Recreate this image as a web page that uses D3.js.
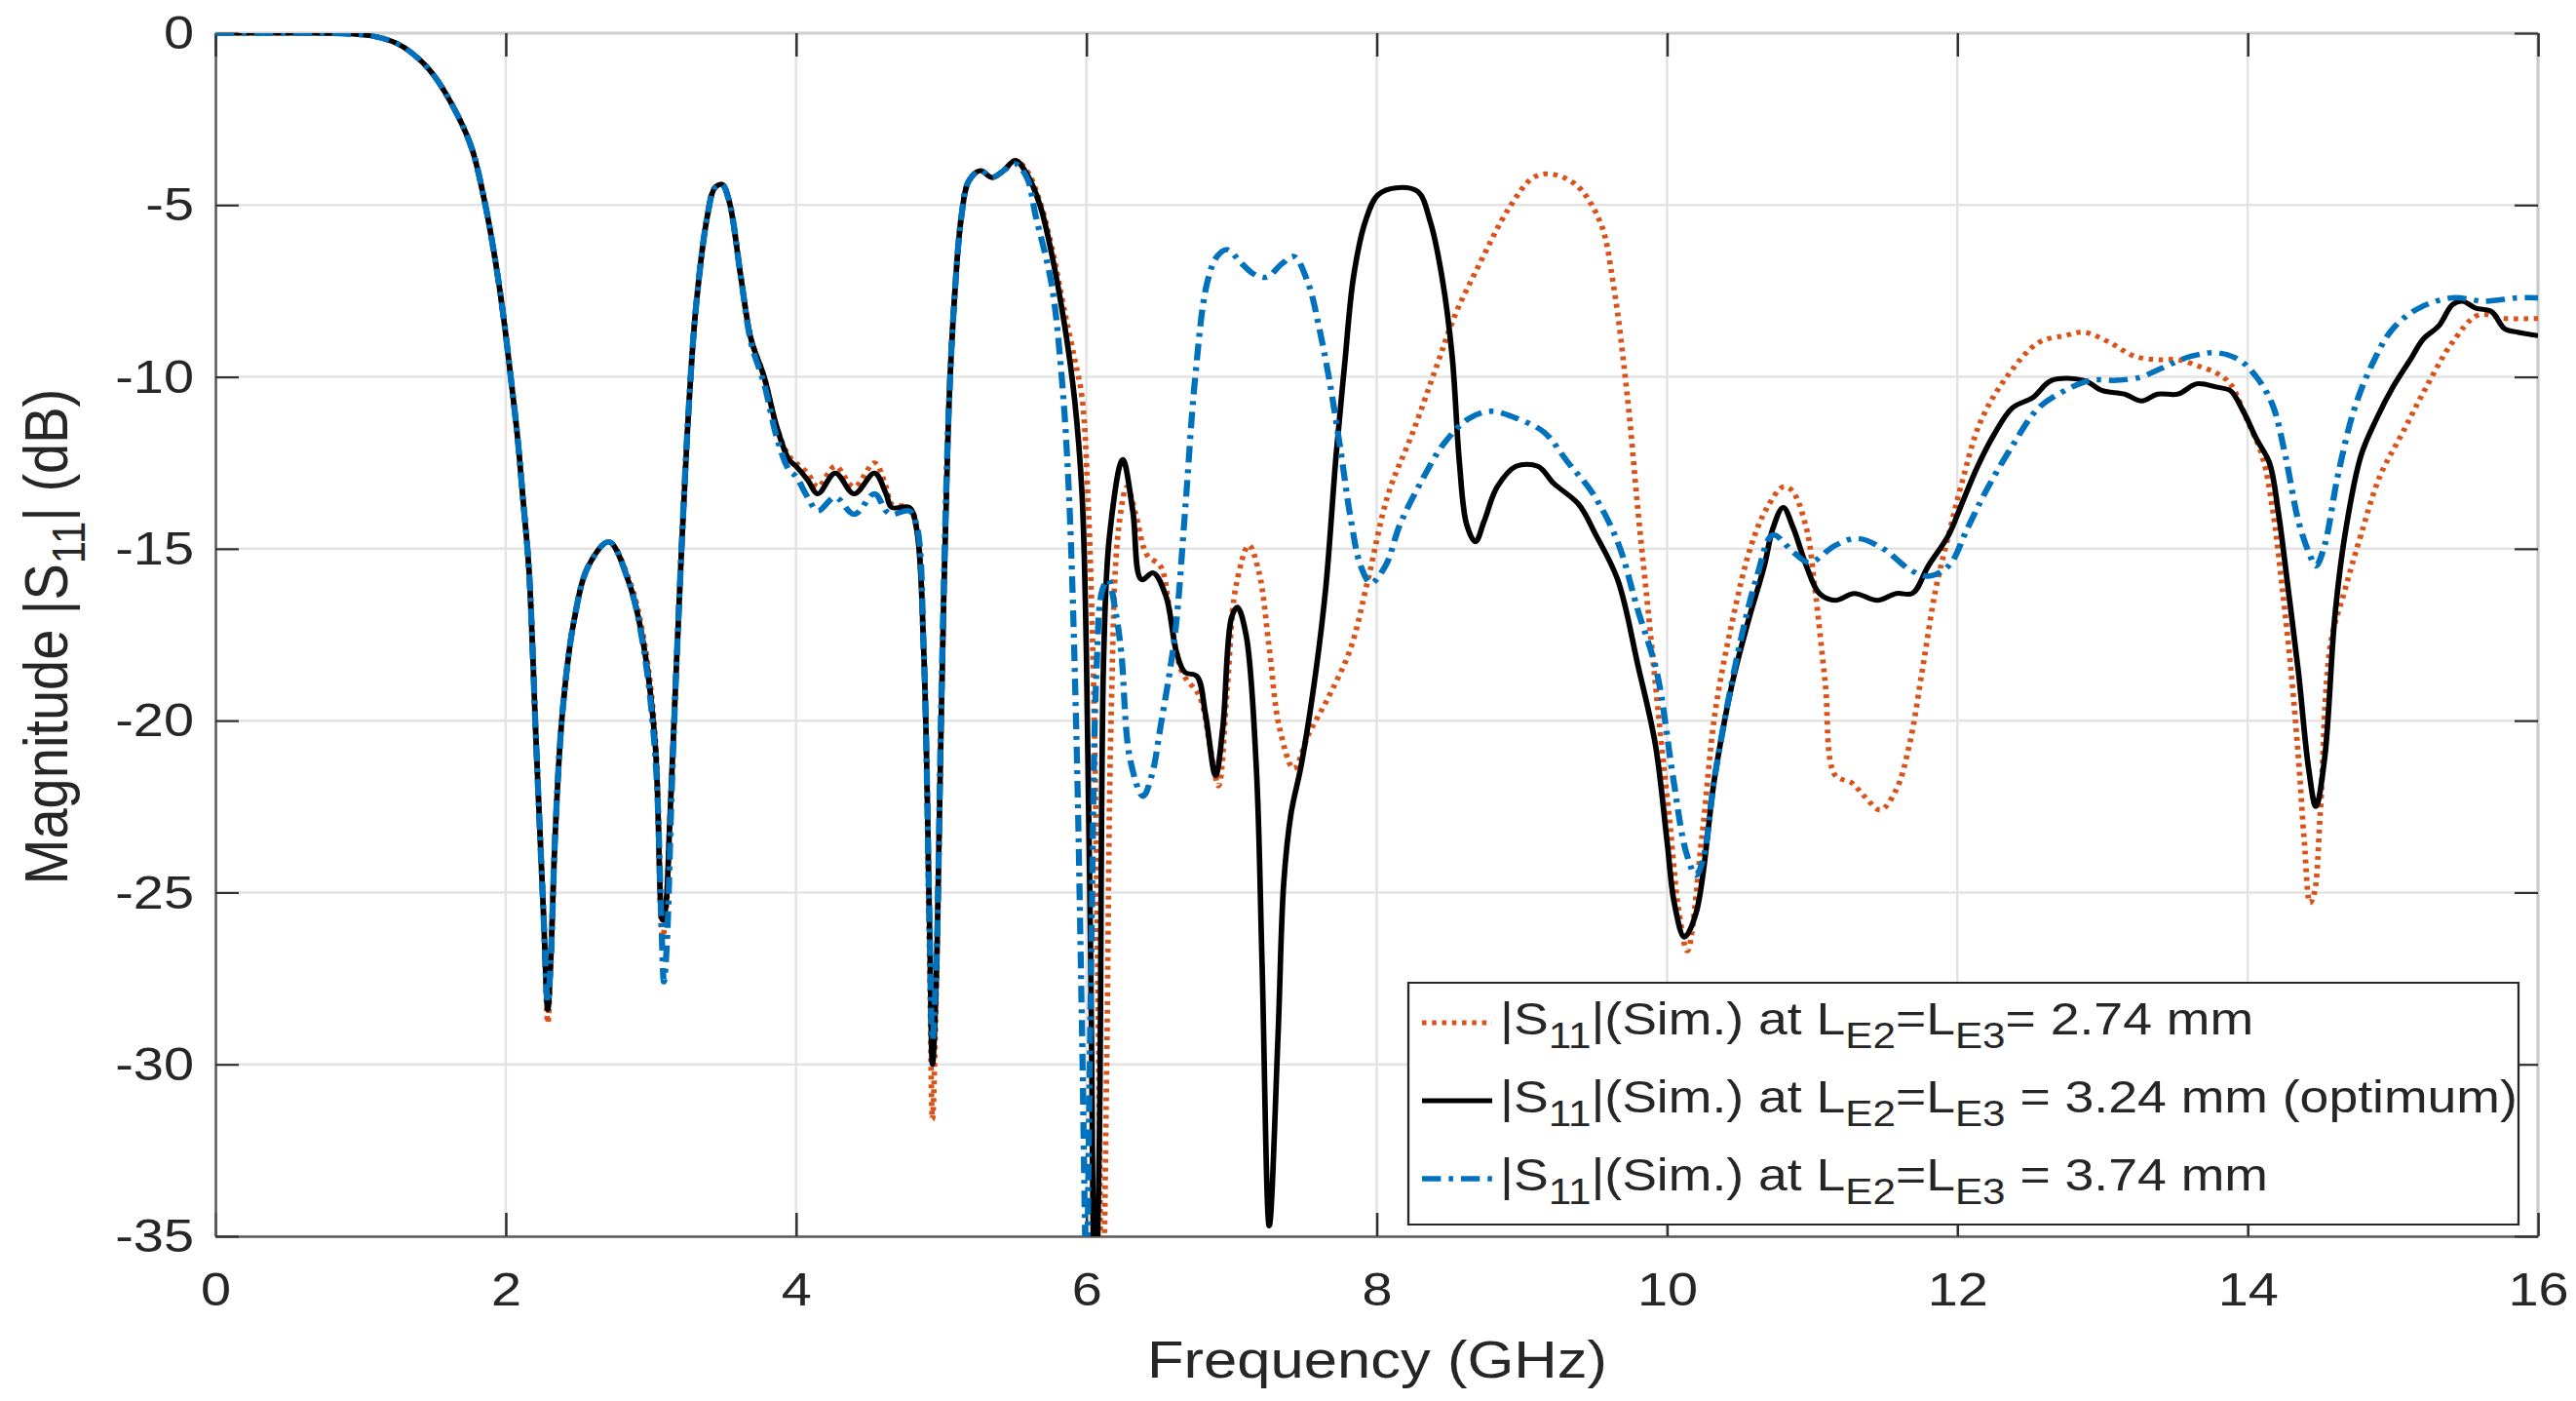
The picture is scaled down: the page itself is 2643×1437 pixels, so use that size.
<!DOCTYPE html>
<meta charset="utf-8">
<script src="https://d3js.org/d3.v7.min.js"></script>
<style>
  body { margin: 0; background: #fff; }
  text { font-family: "Liberation Sans", Arial, Helvetica, sans-serif; fill: #262626; }
</style>
<div id="chart"></div>
<script>

// axis ticks
var xTicks = [0, 2, 4, 6, 8, 10, 12, 14, 16];
var yTicks = [0, -5, -10, -15, -20, -25, -30, -35];

// shared low band (all three cases overlap up to ~2.2 GHz)
var lowBand = [[0,0],[0.5,0],[0.9,-0.02],[1.1,-0.1],[1.25,-0.3],[1.36,-0.6],[1.5,-1.2],[1.67,-2.4],
  [1.77,-3.4],[1.85,-4.8],[1.92,-6.4],[1.98,-8.1],[2.04,-10.2],[2.08,-11.7],[2.12,-13.6],[2.16,-15.6],
  [2.21,-20.7],[2.26,-25.6]];

// |S11| at LE2=LE3 = 2.74 mm  [GHz, dB]
var s11_274 = lowBand.concat([[2.29,-28.8],[2.31,-27],[2.34,-23.4],[2.39,-19.8],[2.47,-17.1],[2.57,-15.5],
  [2.71,-14.8],[2.85,-15.9],[2.95,-17.6],[3.03,-20.5],[3.08,-26.3],[3.1,-25.8],[3.13,-23],[3.18,-18],
  [3.25,-11.7],[3.31,-8],[3.39,-5.3],[3.44,-4.5],[3.49,-4.4],[3.54,-4.9],[3.62,-7.1],[3.69,-8.9],
  [3.78,-10],[3.87,-11.5],[3.95,-12.3],[4.0,-12.5],[4.08,-12.8],[4.15,-13.2],[4.27,-12.6],[4.4,-13.2],
  [4.54,-12.5],[4.62,-13.2],[4.66,-13.7],[4.78,-13.8],[4.83,-14.4],[4.88,-18],[4.92,-27],[4.94,-31.6],
  [4.97,-27],[5.0,-20],[5.05,-11.2],[5.09,-7.8],[5.14,-5.3],[5.19,-4.3],[5.27,-4.0],[5.35,-4.2],
  [5.43,-4.0],[5.51,-3.7],[5.59,-4.0],[5.68,-4.9],[5.76,-6.2],[5.85,-8.1],[5.92,-9.5],[5.97,-10.6],
  [6.01,-13.4],[6.05,-19],[6.08,-28],[6.11,-38],[6.14,-30],[6.17,-20],[6.22,-14.5],[6.28,-13.2],
  [6.34,-14],[6.42,-15.2],[6.51,-15.5],[6.58,-17],[6.66,-18.6],[6.78,-19.3],[6.85,-20.7],[6.91,-21.9],
  [6.97,-19.1],[7.03,-16.1],[7.12,-14.9],[7.19,-15.7],[7.26,-17.9],[7.33,-20.2],[7.43,-21.4],
  [7.53,-20.4],[7.67,-19.3],[7.82,-17.9],[7.94,-15.9],[8.08,-13.4],[8.25,-11.6],[8.42,-9.6],[8.54,-8.2],
  [8.71,-6.7],[8.91,-5.1],[9.08,-4.2],[9.2,-4.1],[9.37,-4.4],[9.54,-5.5],[9.63,-7.3],[9.73,-10.7],
  [9.8,-13.9],[9.87,-16.8],[9.95,-20.2],[10.02,-23],[10.08,-25.5],[10.14,-26.7],[10.24,-23.4],
  [10.33,-19.8],[10.45,-17.1],[10.58,-14.9],[10.69,-13.8],[10.8,-13.2],[10.86,-13.3],[10.96,-14.4],
  [11.02,-16.2],[11.09,-18.9],[11.16,-21.6],[11.27,-21.8],[11.36,-22.2],[11.47,-22.6],[11.58,-22],
  [11.67,-20.7],[11.76,-18.5],[11.85,-16.2],[11.94,-14.6],[12.03,-13.1],[12.16,-11.3],[12.34,-10],
  [12.56,-9],[12.74,-8.8],[12.87,-8.7],[13.05,-9.0],[13.22,-9.4],[13.38,-9.5],[13.52,-9.5],[13.67,-9.7],
  [13.79,-9.9],[13.88,-10.2],[13.99,-11.2],[14.1,-12.3],[14.17,-13.8],[14.24,-16.2],[14.3,-18.6],
  [14.35,-21.1],[14.39,-23.5],[14.43,-25.3],[14.46,-25],[14.5,-22.7],[14.57,-17.8],[14.67,-16.2],
  [14.78,-14.6],[14.91,-12.9],[15.07,-11.6],[15.23,-10.3],[15.41,-9],[15.59,-8.2],[15.77,-8.3],[16,-8.3]]);

// |S11| at LE2=LE3 = 3.24 mm (optimum)
var s11_324 = lowBand.concat([[2.29,-28.4],[2.31,-27],[2.34,-23.4],[2.39,-19.8],[2.47,-17.1],[2.57,-15.5],
  [2.71,-14.8],[2.85,-16],[2.95,-17.8],[3.03,-20.7],[3.08,-25.8],[3.1,-25.5],[3.13,-23],[3.18,-18],
  [3.25,-11.7],[3.31,-8],[3.39,-5.3],[3.44,-4.5],[3.49,-4.4],[3.54,-4.9],[3.62,-7.1],[3.69,-8.9],
  [3.78,-10],[3.87,-11.5],[3.95,-12.4],[4.0,-12.6],[4.08,-13.0],[4.15,-13.4],[4.27,-12.8],[4.4,-13.4],
  [4.54,-12.8],[4.62,-13.4],[4.66,-13.8],[4.78,-13.8],[4.83,-14.4],[4.88,-18],[4.92,-26],[4.94,-30],
  [4.97,-27],[5.0,-20],[5.05,-11.2],[5.09,-7.8],[5.14,-5.3],[5.19,-4.3],[5.27,-4.0],[5.35,-4.2],
  [5.43,-4.0],[5.51,-3.7],[5.59,-4.1],[5.68,-5],[5.76,-6.4],[5.85,-8.5],[5.92,-10.7],[5.97,-13.4],
  [6.0,-18],[6.03,-27],[6.06,-38],[6.09,-32],[6.12,-18],[6.16,-14.6],[6.25,-12.4],[6.32,-13.9],
  [6.38,-15.9],[6.46,-15.7],[6.55,-16.4],[6.62,-18],[6.68,-18.6],[6.76,-18.7],[6.82,-19.8],[6.89,-21.6],
  [6.94,-20.2],[7.0,-17],[7.04,-16.7],[7.1,-17.5],[7.17,-21.3],[7.21,-27],[7.26,-34.7],[7.32,-29.2],
  [7.36,-24.7],[7.41,-22.7],[7.48,-21.3],[7.58,-18.6],[7.65,-16.1],[7.72,-12.3],[7.78,-9.6],[7.84,-7.1],
  [7.92,-5.5],[8.01,-4.7],[8.13,-4.5],[8.28,-4.6],[8.37,-5.5],[8.45,-7.1],[8.52,-9.4],[8.57,-12.5],
  [8.62,-14.3],[8.68,-14.8],[8.74,-14.2],[8.83,-13.2],[8.96,-12.6],[9.11,-12.6],[9.22,-13.1],
  [9.39,-13.7],[9.51,-14.6],[9.66,-15.9],[9.8,-18.4],[9.92,-20.7],[10.0,-23.5],[10.05,-25.3],
  [10.12,-26.3],[10.2,-25.6],[10.33,-21.6],[10.45,-18.9],[10.56,-17.1],[10.67,-15.5],[10.73,-14.4],
  [10.8,-13.8],[10.87,-14.4],[10.96,-15.5],[11.05,-16.3],[11.16,-16.5],[11.29,-16.3],[11.45,-16.5],
  [11.58,-16.3],[11.69,-16.3],[11.8,-15.5],[11.94,-14.6],[12.03,-13.7],[12.14,-12.6],[12.25,-11.7],
  [12.38,-10.9],[12.52,-10.6],[12.65,-10.1],[12.87,-10.1],[13.0,-10.4],[13.15,-10.5],[13.27,-10.7],
  [13.38,-10.5],[13.52,-10.5],[13.65,-10.2],[13.79,-10.3],[13.88,-10.4],[13.97,-11],[14.06,-11.8],
  [14.15,-12.5],[14.21,-13.9],[14.28,-16.2],[14.35,-18.6],[14.42,-21.4],[14.47,-22.5],[14.53,-21.1],
  [14.6,-17],[14.67,-14.6],[14.78,-12.3],[14.89,-11.2],[15.0,-10.3],[15.12,-9.5],[15.21,-8.9],
  [15.32,-8.5],[15.41,-7.9],[15.48,-7.8],[15.57,-8],[15.68,-8.1],[15.77,-8.6],[15.86,-8.7],[16,-8.8]]);

// |S11| at LE2=LE3 = 3.74 mm
var s11_374 = lowBand.concat([[2.29,-28.2],[2.31,-27],[2.34,-23.4],[2.39,-19.8],[2.47,-17.1],[2.57,-15.5],
  [2.71,-14.8],[2.85,-16],[2.95,-17.9],[3.03,-21],[3.07,-25.5],[3.09,-27.6],[3.11,-26.5],[3.14,-22.5],
  [3.18,-18],[3.25,-11.7],[3.31,-8],[3.39,-5.3],[3.44,-4.5],[3.49,-4.4],[3.54,-4.9],[3.62,-7.1],
  [3.69,-9],[3.78,-10.2],[3.87,-11.8],[3.95,-12.7],[4.0,-12.9],[4.08,-13.5],[4.15,-13.9],[4.27,-13.5],
  [4.4,-14],[4.54,-13.4],[4.62,-13.9],[4.66,-14],[4.78,-13.9],[4.83,-14.3],[4.88,-18],[4.92,-26],
  [4.94,-29.3],[4.97,-26.5],[5.0,-19.5],[5.05,-11.2],[5.09,-7.8],[5.14,-5.3],[5.19,-4.3],[5.27,-4.0],
  [5.35,-4.2],[5.43,-4.0],[5.51,-3.8],[5.59,-4.2],[5.65,-5.3],[5.76,-7.3],[5.83,-10],[5.88,-13.4],
  [5.93,-20.2],[5.97,-29],[6.0,-36],[6.03,-28],[6.07,-18.5],[6.11,-16.2],[6.15,-15.9],[6.2,-16.8],
  [6.24,-18],[6.3,-21.1],[6.39,-22.2],[6.45,-21.6],[6.51,-20.2],[6.61,-17.5],[6.68,-13.9],[6.75,-10],
  [6.83,-7.3],[6.9,-6.5],[6.97,-6.3],[7.07,-6.7],[7.15,-7.0],[7.24,-7.1],[7.35,-6.7],[7.43,-6.5],
  [7.53,-7.3],[7.6,-8.5],[7.67,-10],[7.75,-12.1],[7.82,-14.1],[7.89,-15.5],[7.96,-16],[8.06,-15.5],
  [8.16,-14.3],[8.3,-13.1],[8.47,-11.9],[8.64,-11.2],[8.79,-11],[8.96,-11.2],[9.15,-11.6],[9.32,-12.5],
  [9.49,-13.4],[9.66,-14.8],[9.8,-16.8],[9.93,-18.6],[10.04,-21.6],[10.13,-23.8],[10.2,-24.5],
  [10.25,-24],[10.33,-21.6],[10.49,-18],[10.62,-15.8],[10.73,-14.6],[10.87,-15.1],[10.98,-15.4],
  [11.16,-14.9],[11.31,-14.7],[11.49,-15],[11.67,-15.6],[11.8,-15.8],[11.94,-15.5],[12.07,-14.4],
  [12.2,-13.3],[12.38,-12],[12.56,-10.9],[12.74,-10.4],[12.92,-10.1],[13.1,-10.1],[13.27,-10],
  [13.38,-9.8],[13.61,-9.4],[13.79,-9.3],[13.94,-9.5],[14.06,-10],[14.17,-10.8],[14.26,-12.3],
  [14.35,-14.2],[14.43,-15.2],[14.47,-15.5],[14.53,-14.9],[14.62,-12.9],[14.73,-11],[14.85,-9.7],
  [15.0,-8.6],[15.18,-8],[15.41,-7.7],[15.63,-7.8],[15.86,-7.7],[16,-7.7]]);

var legendCases = ["= 2.74 mm", " = 3.24 mm (optimum)", " = 3.74 mm"];

// the original figure is stretched sideways a bit, so draw in a narrower viewBox
var W = 2643, H = 1437, SX = 1.14, VW = W / SX;
var plot = {left: 221, right: 2604, top: 34, bottom: 1268};

var svg = d3.select("#chart").append("svg")
    .attr("width", W).attr("height", H)
    .attr("viewBox", "0 0 " + VW + " " + H)
    .attr("preserveAspectRatio", "none");

var x = d3.scaleLinear().domain([0, 16]).range([plot.left / SX, plot.right / SX]);
var y = d3.scaleLinear().domain([-35, 0]).range([plot.bottom, plot.top]);

// grid
svg.append("g").selectAll("line").data(xTicks).enter().append("line")
    .attr("x1", d => x(d)).attr("x2", d => x(d)).attr("y1", plot.top).attr("y2", plot.bottom)
    .attr("stroke", "#e3e3e3").attr("stroke-width", 2.5 / SX);
svg.append("g").selectAll("line").data(yTicks).enter().append("line")
    .attr("x1", x(0)).attr("x2", x(16)).attr("y1", d => y(d)).attr("y2", d => y(d))
    .attr("stroke", "#e3e3e3").attr("stroke-width", 2.5);

// box edges (top / right light)
svg.append("line").attr("x1", x(0)).attr("x2", x(16)).attr("y1", plot.top).attr("y2", plot.top)
    .attr("stroke", "#d0d0d0").attr("stroke-width", 3);
svg.append("line").attr("x1", x(16)).attr("x2", x(16)).attr("y1", plot.top).attr("y2", plot.bottom)
    .attr("stroke", "#c8c8c8").attr("stroke-width", 3 / SX);

// axes with inward ticks, plain hyphen minus like the original
var tickLen = 24;
var fmt = d => String(d);
var xAxis = svg.append("g").attr("transform", "translate(0," + plot.bottom + ")")
    .call(d3.axisBottom(x).tickValues(xTicks).tickFormat(fmt).tickSizeInner(-tickLen).tickSizeOuter(0).tickPadding(36));
var yAxis = svg.append("g").attr("transform", "translate(" + x(0) + ",0)")
    .call(d3.axisLeft(y).tickValues(yTicks).tickFormat(fmt).tickSizeInner(-tickLen / SX).tickSizeOuter(0).tickPadding(22 / SX));
svg.append("g").attr("transform", "translate(0," + plot.top + ")")
    .call(d3.axisTop(x).tickValues(xTicks).tickSizeInner(-tickLen).tickSizeOuter(0).tickFormat(""))
    .select(".domain").remove();
svg.append("g").attr("transform", "translate(" + x(16) + ",0)")
    .call(d3.axisRight(y).tickValues(yTicks).tickSizeInner(-tickLen / SX).tickSizeOuter(0).tickFormat(""))
    .select(".domain").remove();

svg.selectAll(".tick line").attr("stroke", "#303030").attr("stroke-width", 2.2);
xAxis.select(".domain").attr("stroke", "#5a5a5a").attr("stroke-width", 2.5);
yAxis.select(".domain").attr("stroke", "#5a5a5a").attr("stroke-width", 2.5 / SX);
xAxis.selectAll("text").style("font-size", "49px").style("fill", "#262626");
yAxis.selectAll("text").style("font-size", "49px").style("fill", "#262626");

// axis labels
svg.append("text")
    .attr("x", 1413 / SX).attr("y", 1413)
    .attr("text-anchor", "middle").style("font-size", "54px")
    .text("Frequency (GHz)");

var yl = svg.append("text")
    .attr("transform", "translate(" + (69 / SX) + ",653) rotate(-90)")
    .attr("text-anchor", "middle").style("font-size", "56px");
yl.append("tspan").text("Magnitude |S");
yl.append("tspan").attr("dy", 16).style("font-size", "42px").text("11");
yl.append("tspan").attr("dy", -16).text("| (dB)");

// curves
svg.append("clipPath").attr("id", "clip").append("rect")
    .attr("x", x(0)).attr("y", plot.top).attr("width", x(16) - x(0)).attr("height", plot.bottom - plot.top);

var line = d3.line().x(d => x(d[0])).y(d => y(d[1])).curve(d3.curveCatmullRom.alpha(0.5));

var series = [
  {data: s11_274, color: "#D95319", width: 5, dash: "4,5"},
  {data: s11_324, color: "#000000", width: 5, dash: null},
  {data: s11_374, color: "#0072BD", width: 5.5, dash: "17,7,4,7"}
];

svg.append("g").attr("clip-path", "url(#clip)").selectAll("path").data(series).enter().append("path")
    .attr("d", d => line(d.data))
    .attr("fill", "none")
    .attr("stroke", d => d.color)
    .attr("stroke-width", d => d.width)
    .attr("stroke-dasharray", d => d.dash)
    .attr("stroke-linejoin", "round");

// legend
var lg = svg.append("g");
lg.append("rect")
    .attr("x", 1445 / SX).attr("y", 1008).attr("width", (2584 - 1445) / SX).attr("height", 248)
    .attr("fill", "#fff").attr("stroke", "#262626").attr("stroke-width", 2);

legendCases.forEach(function(c, i) {
  var cy = 1049 + i * 80;
  var s = series[i];
  lg.append("line")
      .attr("x1", 1459 / SX).attr("x2", 1531 / SX).attr("y1", cy).attr("y2", cy)
      .attr("stroke", s.color).attr("stroke-width", s.width).attr("stroke-dasharray", s.dash);
  var t = lg.append("text").attr("x", 1539 / SX).attr("y", cy + 12).style("font-size", "47px");
  t.append("tspan").text("|S");
  t.append("tspan").attr("dy", 14).style("font-size", "37px").text("11");
  t.append("tspan").attr("dy", -14).text("|(Sim.) at L");
  t.append("tspan").attr("dy", 14).style("font-size", "37px").text("E2");
  t.append("tspan").attr("dy", -14).text("=L");
  t.append("tspan").attr("dy", 14).style("font-size", "37px").text("E3");
  t.append("tspan").attr("dy", -14).text(c);
});

</script>
